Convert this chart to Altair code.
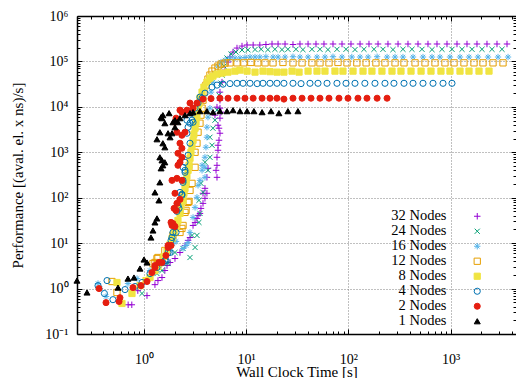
import altair as alt
import pandas as pd

FONT = "Liberation Serif"

series = ["32 Nodes", "24 Nodes", "16 Nodes", "12 Nodes", "8 Nodes", "4 Nodes", "2 Nodes", "1 Nodes"]
stroke_colors = ["#9400d3", "#009e73", "#56b4e9", "#e69f00", "#f0e442", "#0072b2", "#e51e10", "#000000"]
fill_colors = ["transparent", "transparent", "transparent", "transparent", "#f0e442", "transparent", "#e51e10", "#000000"]
symbols = [
    "M-1,0L1,0M0,-1L0,1",
    "M-0.8,-0.8L0.8,0.8M-0.8,0.8L0.8,-0.8",
    "M-1,0L1,0M0,-1L0,1M-0.7,-0.7L0.7,0.7M-0.7,0.7L0.7,-0.7",
    "square", "square", "circle", "circle", "triangle-up",
]
symbol_sizes = [42, 36, 36, 28, 22, 28, 20, 30]

# wall clock time [s] and performance for each node count
t32 = [0.70, 0.76, 0.87, 1.07, 1.28, 1.37, 1.50, 1.60, 1.68, 2.25, 2.52, 2.82, 3.02, 3.30, 3.53, 3.78,
       3.78, 3.95, 4.13, 4.13, 4.23, 5.18, 5.18, 5.18, 5.30, 5.54, 5.30, 5.54, 5.54, 5.54, 4.95, 5.18,
       5.54, 5.80, 6.21, 6.64, 6.94, 7.43, 8.13, 9.10, 10.2,
       1.80, 2.01, 2.70, 3.16, 3.38, 3.61, 3.95, 5.07, 5.30, 5.42, 5.42, 5.67,
       11.7, 13.6, 15.6, 17.9, 20.5, 24.0, 28.7, 33.6, 40.3, 48.2, 57.7, 70.7, 86.6, 106, 130, 159,
       195, 244, 306, 383, 480, 601, 736, 922, 1155, 1447, 1812, 2270, 2844, 3564]
p32 = [0.44, 0.44, 0.90, 0.70, 1.22, 1.50, 1.75, 2.50, 3.22, 6.23, 8.89, 13.3, 24.5, 35.0, 45.1, 75.0,
       125, 161, 125, 281, 444, 281, 517, 776, 1428, 2626, 3946, 5633, 9370, 1.40e4, 6560, 9860,
       2.11e4, 3.50e4, 6.44e4, 9.68e4, 1.25e5, 1.61e5, 1.97e5, 2.18e5, 2.30e5,
       3.75, 4.59, 11.5, 28.6, 40.8, 58.2, 97.0, 401, 1107, 1840, 3387, 7643,
       2.30e5, 2.30e5, 2.36e5, 2.42e5, 2.42e5, 2.42e5, 2.36e5, 2.42e5, 2.42e5, 2.42e5, 2.42e5, 2.42e5,
       2.42e5, 2.42e5, 2.42e5, 2.42e5, 2.42e5, 2.42e5, 2.42e5, 2.42e5, 2.42e5, 2.42e5, 2.42e5, 2.42e5,
       2.42e5, 2.42e5, 2.42e5, 2.42e5, 2.42e5, 2.42e5]

t24 = [0.956, 1.34, 1.43, 1.50, 1.72, 2.01, 2.41, 2.82, 2.95, 3.16, 3.30, 3.45, 3.45, 3.53, 3.61, 3.78,
       3.95, 4.23, 4.42, 4.63, 4.42, 4.73, 4.95, 5.18, 5.42, 5.67, 5.80, 6.07, 6.49, 7.10, 7.94, 9.10,
       10.4, 12.2, 14.0, 16.3, 19.1, 22.4, 25.6, 30.7, 35.9, 44.0, 52.7, 63.1, 77.3, 94.8, 116, 142,
       178, 218, 273, 342, 419, 525, 658, 824, 1032, 1293, 1620, 2029, 2541, 3184]
p24 = [0.78, 2.14, 2.76, 2.50, 3.56, 6.23, 7.63, 4.83, 14.8, 8.03, 14.8, 28.6, 87.4, 45.1, 207, 131,
       602, 401, 776, 1428, 2143, 3387, 5088, 8461, 1.81e4, 3.33e4, 5.00e4, 7.89e4, 1.19e5, 1.45e5, 1.61e5, 1.78e5,
       1.80e5, 1.83e5, 1.85e5, 1.82e5, 1.85e5, 1.82e5, 1.85e5, 1.85e5, 1.82e5, 1.85e5, 1.85e5, 1.82e5,
       1.85e5, 1.85e5, 1.82e5, 1.85e5, 1.85e5, 1.85e5, 1.82e5, 1.85e5, 1.85e5, 1.85e5, 1.82e5, 1.85e5,
       1.85e5, 1.85e5, 1.85e5, 1.85e5, 1.85e5, 1.85e5]

t16 = [0.355, 0.371, 0.425, 0.697, 0.855, 1.145, 1.37, 1.60, 1.80, 1.92, 2.06, 2.41, 2.58, 2.70, 2.82, 3.02,
       3.16, 3.30, 3.38, 3.53, 3.70, 3.70, 3.95, 3.95, 3.95, 4.04, 4.13, 4.13, 4.23, 4.42, 4.53, 4.73,
       4.95, 5.30, 5.67, 6.21, 6.94,
       7.77, 8.70, 9.73, 10.9, 12.2, 13.6, 15.6, 18.3, 20.5, 24.0, 28.7, 33.6, 40.3, 49.3, 59.0, 70.7,
       86.6, 108, 130, 156, 191, 239, 286, 342, 429, 537, 658, 787, 986, 1236, 1514, 1854, 2323, 2911, 3648]
p16 = [1.29, 1.0, 0.67, 1.29, 1.66, 2.50, 3.22, 5.35, 6.89, 9.84, 10.9, 7.63, 8.89, 10.3, 17.2, 36.8,
       61.2, 102, 187, 241, 401, 517, 281, 467, 776, 1290, 2143, 3564, 5927, 9367, 2.11e4, 3.50e4,
       5.53e4, 7.89e4, 9.68e4, 1.07e5, 1.19e5,
       1.19e5, 1.19e5, 1.22e5, 1.25e5, 1.25e5, 1.25e5, 1.27e5, 1.25e5, 1.25e5, 1.25e5, 1.27e5, 1.25e5,
       1.25e5, 1.25e5, 1.25e5, 1.27e5, 1.25e5, 1.25e5, 1.25e5, 1.25e5, 1.27e5, 1.25e5, 1.25e5, 1.25e5,
       1.25e5, 1.25e5, 1.25e5, 1.25e5, 1.25e5, 1.25e5, 1.25e5, 1.25e5, 1.25e5, 1.25e5, 1.25e5]

t12 = [0.486, 0.544, 1.224, 1.28, 1.34, 1.37, 1.60, 1.92, 2.25, 2.35, 2.41, 2.52, 2.58, 2.70, 2.76, 2.82,
       2.95, 3.16, 3.16, 3.30, 3.38, 3.53, 3.61, 3.70, 3.78, 3.86, 4.04, 4.23, 4.42, 4.63, 4.95, 5.30,
       5.67, 6.21,
       6.94, 8.13, 9.51, 11.1, 13.0, 15.3, 18.3, 22.9, 28.7, 35.2, 44.0, 52.7, 64.6, 79.1, 96.9, 121,
       149, 186, 228, 286, 350, 449, 562, 704, 881, 1080, 1352, 1694, 2075, 2600, 3258]
p12 = [1.43, 0.82, 3.56, 3.75, 4.59, 4.83, 6.89, 14.8, 17.2, 21.1, 24.5, 47.5, 52.6, 79.0, 83.0, 145,
       207, 467, 1000, 1580, 2763, 4368, 6562, 9367, 1.40e4, 2.11e4, 3.01e4, 4.08e4, 5.00e4, 6.12e4, 7.13e4, 7.89e4,
       8.74e4, 9.20e4,
       9.3e4, 9.3e4, 9.3e4, 9.5e4, 9.3e4, 9.3e4, 9.3e4, 9.5e4, 9.3e4, 9.3e4, 9.3e4, 9.3e4, 9.3e4, 9.5e4,
       9.3e4, 9.3e4, 9.3e4, 9.3e4, 9.3e4, 9.3e4, 9.3e4, 9.3e4, 9.3e4, 9.3e4, 9.3e4, 9.3e4, 9.3e4, 9.3e4,
       9.3e4, 9.3e4, 9.3e4]

t8 = [0.544, 0.609, 0.763, 0.914, 1.046, 1.145, 1.28, 1.37, 1.47, 1.57, 1.68, 1.80, 1.88, 1.97, 2.06, 2.15,
      2.25, 2.30, 2.41, 2.46, 2.52, 2.58, 2.63, 2.70, 2.76, 2.82, 2.88, 2.95, 3.02, 3.08, 3.16, 3.23,
      3.30, 3.38, 3.45, 3.53, 3.70, 3.86, 4.13, 4.42, 4.73, 5.18, 5.80, 6.64, 7.77, 8.70,
      10.2, 12.2, 14.6, 17.1, 20.0, 23.4, 28.1, 32.9, 40.3, 49.3, 59.0, 73.9, 88.5, 111, 139, 170,
      213, 267, 327, 410, 514, 643, 805, 986, 1236, 1514, 1897, 2376]
p8 = [1.36, 0.47, 0.78, 1.16, 1.50, 1.75, 2.50, 3.06, 3.75, 5.08, 6.89, 9.35, 12.7, 17.2, 23.3, 31.6,
      45.1, 64.4, 87.4, 125, 161, 218, 296, 401, 517, 738, 1000, 1357, 1840, 2495, 3387, 4596,
      6236, 8461, 1.15e4, 1.55e4, 2.11e4, 2.72e4, 3.50e4, 4.30e4, 4.75e4, 5.26e4, 5.53e4, 5.82e4, 6.12e4, 6.44e4,
      6.12e4, 5.82e4, 6.12e4, 5.95e4, 5.82e4, 5.82e4, 6.12e4, 5.82e4, 6.12e4, 6.12e4, 6.12e4, 6.12e4,
      6.12e4, 6.12e4, 6.12e4, 6.12e4, 6.12e4, 6.12e4, 6.12e4, 6.12e4, 6.12e4, 6.12e4, 6.12e4, 6.12e4,
      6.12e4, 6.12e4, 6.12e4, 6.12e4]

t4 = [0.355, 0.435, 0.41, 0.497, 0.652, 0.817, 0.956, 1.145, 1.34, 1.53, 1.60, 1.80, 1.88, 1.92, 2.06, 1.84,
      1.72, 1.64, 2.10, 2.15, 2.20, 2.35, 2.25, 2.35, 2.41, 2.52, 2.41, 2.52, 2.41, 2.52, 2.70, 2.82,
      2.63, 2.70, 2.82, 2.95, 2.95, 3.16, 3.38, 2.63, 3.02, 3.70, 3.53, 3.95, 4.63, 5.18, 5.93, 2.52,
      6.94, 8.13, 9.31, 10.9, 12.8, 14.6, 17.1, 20.0, 23.4, 28.7, 34.4, 42.1, 50.4, 61.8, 77.3, 94.8,
      116, 145, 182, 228, 279, 350, 429, 537, 673, 843, 1032]
p4 = [1.16, 1.50, 0.78, 0.57, 0.95, 1.11, 1.36, 2.14, 2.91, 3.75, 4.15, 6.23, 13.3, 17.2, 17.2, 11.5,
      6.23, 4.15, 50.0, 67.8, 58.2, 119, 131, 113, 218, 362, 467, 602, 241, 401, 859, 1580,
      2626, 3564, 4368, 5088, 7264, 9367, 1.21e4, 5088, 4596, 1.55e4, 1.64e4, 2.00e4, 2.72e4, 3.01e4, 3.16e4, 7264,
      3.25e4, 3.30e4, 3.30e4, 3.30e4, 3.25e4, 3.30e4, 3.30e4, 3.30e4, 3.30e4, 3.30e4, 3.25e4, 3.30e4,
      3.30e4, 3.30e4, 3.30e4, 3.30e4, 3.30e4, 3.30e4, 3.30e4, 3.30e4, 3.30e4, 3.30e4, 3.30e4, 3.30e4,
      3.30e4, 3.30e4, 3.30e4]

t2 = [0.363, 0.425, 0.582, 0.57, 0.78, 0.935, 1.07, 1.197, 1.28, 1.40, 1.64, 1.72, 1.84, 2.01, 1.92, 2.06,
      2.25, 1.88, 2.01, 2.10, 1.97, 1.84, 1.88, 1.72, 1.50, 1.28, 2.10, 2.35, 2.15, 2.25, 2.35, 2.15,
      2.35, 2.25, 2.35, 2.10, 2.52, 2.25, 2.06, 2.01, 2.35, 2.63, 3.02, 3.30, 2.82,
      3.78, 4.53, 5.54, 6.64, 8.13, 9.73, 11.7, 14.3, 17.1, 20.0, 23.4, 28.7, 35.2, 43.1, 52.7, 64.6,
      80.9, 99.1, 124, 152, 191, 239]
p2 = [1.0, 0.49, 0.63, 0.52, 1.05, 1.16, 1.43, 2.25, 3.22, 3.75, 5.35, 8.89, 8.89, 23.3, 27.0, 52.6,
      91.9, 241, 125, 75.0, 58.2, 28.6, 24.5, 8.03, 3.75, 2.91, 267, 241, 517, 602, 776, 951,
      1225, 1580, 2372, 2763, 2763, 8461, 5633, 4596, 7643, 8461, 9367, 1.21e4, 1.21e4,
      1.48e4, 1.52e4, 1.55e4, 1.55e4, 1.55e4, 1.55e4, 1.55e4, 1.55e4, 1.55e4, 1.55e4, 1.48e4, 1.55e4,
      1.55e4, 1.55e4, 1.55e4, 1.55e4, 1.55e4, 1.55e4, 1.55e4, 1.55e4, 1.55e4, 1.55e4]

t1 = [0.221, 0.277, 0.557, 0.697, 0.798, 0.914, 1.0, 1.07, 1.17, 1.224, 1.28, 1.34, 1.40, 1.28, 1.43, 1.47,
      1.53, 1.60, 1.43, 1.50, 1.60, 1.53, 1.34, 1.80, 1.72, 1.43, 1.60, 1.92, 2.01, 2.15, 2.25, 1.50,
      1.53, 1.76, 1.47, 1.88, 2.01, 2.52, 2.82,
      3.02, 3.53, 4.13, 4.73, 5.54, 6.49, 7.43, 8.70, 10.2, 11.9, 14.3, 17.5, 20.9, 25.6, 32.1]
p1 = [1.50, 0.82, 1.05, 1.66, 1.75, 2.76, 4.36, 3.75, 13.3, 19.0, 28.6, 35.0, 87.4, 131, 218, 444,
      517, 602, 776, 666, 1290, 1580, 1936, 2143, 2626, 2763, 4368, 4596, 5088, 4596, 5633, 5633,
      6562, 7264, 5927, 2626, 3564, 6562, 7264,
      7643, 8042, 8042, 7643, 8042, 8042, 8461, 8042, 8042, 8042, 7643, 8042, 7264, 8042, 8042]

times = [t32, t24, t16, t12, t8, t4, t2, t1]
perfs = [p32, p24, p16, p12, p8, p4, p2, p1]

df = pd.concat(
    [pd.DataFrame({"time": t, "perf": p, "series": name}) for name, t, p in zip(series, times, perfs)],
    ignore_index=True,
)

# log axes: decades carry labels and grid, 2..9 multiples get short ticks
x_major = [1, 10, 100, 1000]
x_minor = [m * 10.0 ** e for e in range(-1, 4) for m in range(2, 10) if 0.2211 < m * 10.0 ** e < 4365]
y_major = [0.1, 1, 10, 100, 1000, 1e4, 1e5, 1e6]
y_minor = [m * 10.0 ** e for e in range(-1, 6) for m in range(2, 10)]

XS = alt.Scale(type="log", domain=[0.2211, 4365], nice=False)
YS = alt.Scale(type="log", domain=[0.1, 1e6], nice=False)

SUP = ("'10' + ['\u207b\u00b9','\u2070','\u00b9','\u00b2','\u00b3','\u2074','\u2075','\u2076']"
       "[round(log(datum.value) / LN10) + 1]")

common = dict(labelFont=FONT, labelFontSize=14, labelColor="black", titleFont=FONT, titleFontSize=15,
              titleFontWeight="normal", titleColor="black", labelOverlap=False, labelFlush=False)

bottom_axis = alt.Axis(orient="bottom", values=x_major, grid=True, gridColor="#808080", gridDash=[1, 2],
                       gridWidth=1, ticks=False, domain=True, domainColor="black", domainWidth=1.5,
                       labelExpr=SUP, labelPadding=29, labelBaseline="alphabetic",
                       title="Wall Clock Time [s]", titleY=42, titleBaseline="alphabetic", **common)
left_axis = alt.Axis(orient="left", values=y_major, grid=True, gridColor="#808080", gridDash=[1, 2],
                     gridWidth=1, ticks=False, domain=True, domainColor="black", domainWidth=1.5,
                     labelExpr=SUP, labelPadding=9, title="Performance [(aval. el. x ns)/s]",
                     titleX=-55, titleY=159, titleAngle=270, titleBaseline="alphabetic", **common)
top_border = alt.Axis(orient="top", domain=True, domainColor="black", domainWidth=1.5, ticks=False,
                      labels=False, grid=False, title=None)


def tick_axis(orient, values, size):
    # ticks point into the plot: the axis line is pulled inside by the tick length
    return alt.Axis(orient=orient, values=values, tickSize=size, offset={"expr": str(-size)},
                    tickColor="black", tickWidth=1, domain=False, labels=False, grid=False, title=None)


# legend with the text to the left of the symbol
LEG = alt.Legend(title=None, orient="none", legendX=393, legendY=193, labelAlign="right",
                 labelOffset={"expr": "-38"}, labelFont=FONT, labelFontSize=14.5, labelColor="black",
                 symbolStrokeWidth=1, rowPadding=0, padding=0, labelLimit=0)

base = alt.Chart(df)

points = base.mark_point(filled=False, strokeWidth=1, opacity=1).encode(
    x=alt.X("time:Q", scale=XS, axis=bottom_axis),
    y=alt.Y("perf:Q", scale=YS, axis=left_axis),
    stroke=alt.Stroke("series:N", scale=alt.Scale(domain=series, range=stroke_colors), legend=LEG),
    fill=alt.Fill("series:N", scale=alt.Scale(domain=series, range=fill_colors), legend=LEG),
    shape=alt.Shape("series:N", scale=alt.Scale(domain=series, range=symbols), legend=LEG),
    size=alt.Size("series:N", scale=alt.Scale(domain=series, range=symbol_sizes), legend=LEG),
)


def frame_layer(x_axis, y_axis):
    return base.mark_point(opacity=0).encode(
        x=alt.X("time:Q", scale=XS, axis=x_axis),
        y=alt.Y("perf:Q", scale=YS, axis=y_axis),
    )


chart = alt.layer(
    points,
    frame_layer(tick_axis("bottom", x_major, 5), tick_axis("left", y_major, 5)),
    frame_layer(tick_axis("bottom", x_minor, 3), tick_axis("left", y_minor, 3)),
    frame_layer(top_border, tick_axis("right", y_major, 5)),
    frame_layer(tick_axis("top", x_major, 5), tick_axis("right", y_minor, 3)),
    frame_layer(tick_axis("top", x_minor, 3), None),
).resolve_axis(x="independent", y="independent").properties(
    width=439,
    height=318,
    padding={"left": 77, "top": 16, "right": 0, "bottom": 44},
    autosize=alt.AutoSizeParams(type="none"),
).configure_view(stroke=None)

chart.save("out.html", embed_options={"renderer": "svg", "actions": False})
